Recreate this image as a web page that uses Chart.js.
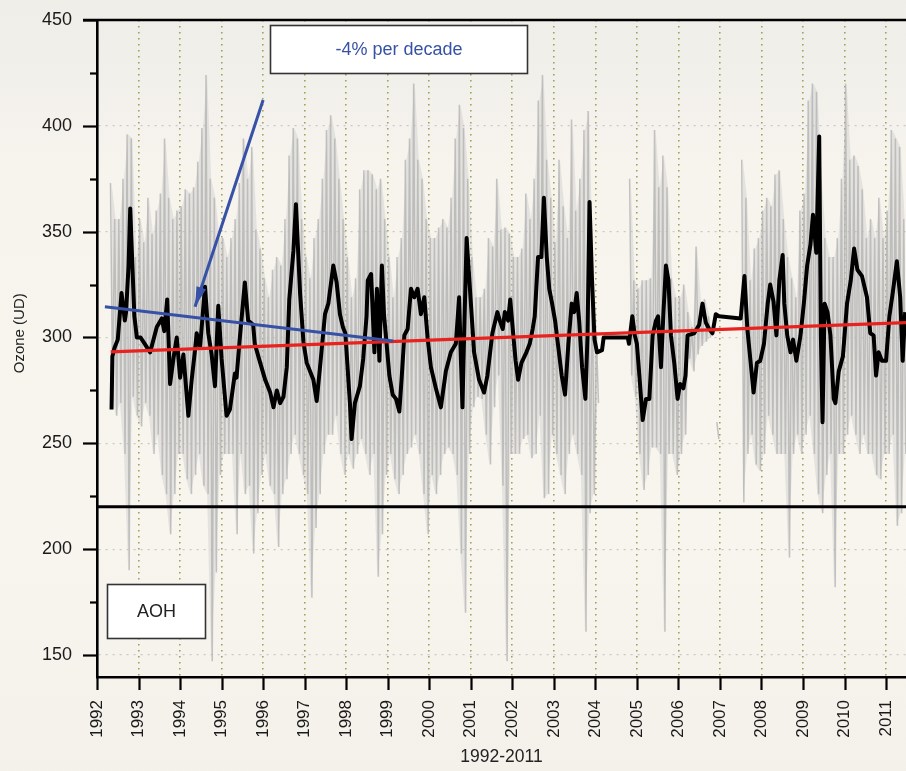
<!DOCTYPE html>
<html><head><meta charset="utf-8">
<script src="https://cdn.jsdelivr.net/npm/chart.js@4/dist/chart.umd.min.js"></script>
<style>
html,body{margin:0;padding:0;}
body{width:906px;height:771px;overflow:hidden;background:linear-gradient(180deg,#efeee9 0%,#f1efea 8%,#f7f4ee 22%,#f8f5ef 70%,#f4f1eb 100%);}
#wrap{position:relative;width:906px;height:771px;}
canvas{display:block;}
</style></head><body><div id="wrap"><canvas id="c" width="906" height="771"></canvas></div>
<script>
// ---------------- DATA ----------------
// Smoothed (black) series: decimal year / ozone value (DU)
const blackYears = [1992.35,1992.37,1992.42,1992.5,1992.59,1992.67,1992.7,1992.76,1992.8,1992.85,1992.9,1992.96,
1993.05,1993.15,1993.28,1993.44,1993.56,1993.62,1993.69,1993.76,1993.84,1993.92,
1994.0,1994.08,1994.2,1994.28,1994.36,1994.4,1994.48,1994.6,1994.68,1994.76,1994.84,1994.92,
1995.0,1995.12,1995.2,1995.32,1995.36,1995.44,1995.56,1995.64,1995.76,1995.8,1995.9,
1996.05,1996.17,1996.25,1996.33,1996.41,1996.49,1996.57,1996.63,1996.73,1996.79,1996.89,1996.97,
1997.05,1997.21,1997.29,1997.37,1997.49,1997.57,1997.69,1997.77,1997.85,1997.92,1997.98,
1998.09,1998.13,1998.21,1998.33,1998.41,1998.49,1998.52,1998.6,1998.68,1998.74,1998.8,1998.86,1998.91,1998.96,
1999.04,1999.12,1999.2,1999.28,1999.34,1999.4,1999.48,1999.56,1999.64,1999.72,1999.8,1999.88,1999.96,
2000.04,2000.16,2000.28,2000.4,2000.52,2000.64,2000.72,2000.76,2000.8,2000.84,2000.9,2000.98,
2001.08,2001.2,2001.32,2001.4,2001.52,2001.64,2001.7,2001.77,2001.82,2001.9,2001.95,
2002.02,2002.08,2002.14,2002.22,2002.34,2002.42,2002.49,2002.54,2002.62,2002.7,2002.76,2002.83,2002.89,2002.95,
2003.03,2003.11,2003.19,2003.27,2003.35,2003.43,2003.49,2003.55,2003.61,2003.68,2003.76,2003.81,2003.86,2003.92,2003.98,
2004.04,2004.16,2004.2,2004.78,2004.81,2004.89,2004.95,
2005.0,2005.06,2005.14,2005.22,2005.3,2005.38,2005.46,2005.51,2005.58,2005.64,2005.7,2005.76,2005.82,2005.9,2005.98,
2006.04,2006.12,2006.17,2006.22,2006.38,2006.5,2006.58,2006.66,2006.74,2006.82,2006.9,2006.98,
2007.5,2007.59,2007.66,2007.75,2007.81,2007.89,2007.97,
2008.06,2008.15,2008.21,2008.29,2008.36,2008.43,2008.51,2008.55,2008.62,2008.7,2008.76,2008.84,2008.94,
2009.02,2009.1,2009.18,2009.24,2009.32,2009.39,2009.43,2009.47,2009.52,2009.59,2009.66,2009.74,2009.78,2009.86,2009.96,
2010.06,2010.15,2010.23,2010.31,2010.42,2010.54,2010.62,2010.7,2010.76,2010.82,2010.9,
2011.0,2011.08,2011.16,2011.26,2011.34,2011.4,2011.46];
const blackValues = [266,291,295,299,321,308,312,334,361,335,310,300,
300,297,293,305,309,303,318,278,290,300,
281,292,263,280,294,302,295,324,302,292,277,315,
290,263,266,283,281,300,326,308,306,297,290,
280,274,267,275,269,272,286,318,341,363,321,298,
288,280,270,286,311,316,334,326,311,305,302,
269,252,269,277,290,310,327,330,293,323,289,334,311,300,
282,273,271,265,282,301,304,323,319,323,311,319,300,
286,276,267,284,293,297,319,291,267,301,347,323,
293,280,274,282,302,312,308,304,312,308,318,
302,289,280,288,293,297,304,310,338,338,366,338,323,317,
308,295,282,273,297,316,312,321,308,286,271,300,364,327,299,
293,294,300,300,297,310,301,
297,282,261,271,271,301,308,310,286,312,334,327,301,288,271,
278,276,282,301,302,306,316,307,304,302,311,310,
309,329,304,286,274,288,289,
297,316,325,317,301,327,339,316,301,293,299,289,301,
316,334,344,358,340,395,301,260,316,312,301,271,269,284,291,
316,327,342,332,329,319,302,301,282,293,289,
289,310,321,336,319,289,312];

// Daily (grey) series summarised per 0.1-year bin: highest and lowest daily value
const grayFirstBin = 1992.3;
const grayBinWidth = 0.1;
const grayHigh = [373,356,356,375,396,394,338,
356,345,366,349,360,368,394,366,356,360,
362,370,368,371,383,399,424,375,366,347,
347,338,347,356,373,394,375,390,351,342,
328,319,332,338,334,356,386,399,394,356,
338,328,347,356,375,398,405,394,375,356,
338,319,328,370,379,379,377,370,375,356,
338,319,338,347,384,394,420,384,375,356,
347,347,352,356,352,366,394,410,399,375,
338,319,319,323,347,343,375,351,352,349,
338,338,342,368,356,375,412,424,384,366,
345,384,362,347,403,360,375,398,407,328,
300,null,null,null,null,null,null,null,375,327,
323,327,327,328,398,371,386,371,328,319,
319,325,312,305,343,315,318,310,null,260,
null,null,null,null,null,384,366,327,342,347,
360,366,362,377,379,356,338,328,319,360,
368,412,420,416,375,347,338,338,347,375,
420,384,386,381,370,347,356,347,366,347,
360,398,394,390,356];
const grayLow = [275,263,269,245,190,272,263,
258,269,263,245,254,235,226,207,226,245,
245,233,226,235,245,230,226,147,189,235,
245,245,245,207,245,226,230,198,217,235,
245,230,226,201,226,233,245,254,245,235,
226,177,210,226,245,254,254,263,245,235,
245,238,245,252,245,235,245,187,207,235,
245,233,226,235,245,248,254,245,226,207,
235,226,235,245,248,245,235,198,170,245,
267,272,271,254,240,267,282,230,147,245,
245,245,252,254,243,245,263,224,226,254,
245,235,226,245,254,245,235,161,217,226,
269,null,null,null,null,null,null,null,282,272,
245,228,235,248,248,245,161,245,245,235,
245,254,290,284,292,296,298,300,null,252,
null,null,null,null,null,222,245,254,240,237,
245,263,254,245,245,245,196,245,254,245,
254,263,245,226,217,235,245,182,245,245,
254,263,254,245,254,245,245,235,233,245,
245,254,211,217,245];

// Trend lines and arrow (end points, decimal year / DU)
const redTrendYears = [1992.33, 2011.48];
const redTrendValues = [293.2, 307.0];
const blueTrendYears = [1992.19, 1999.13];
const blueTrendValues = [314.5, 298.3];
const arrowYears = [1996.0, 1994.36];
const arrowValues = [412.2, 314.5];
const separatorYears = [1992, 2011.48];
const separatorValues = [220, 220];

// Text labels
const trendLabel = '-4% per decade';
const stationLabel = 'AOH';
const yAxisTitle = 'Ozone (UD)';
const xAxisTitle = '1992-2011';

// ---------------- BUILD ----------------
const pts = (xs, ys) => xs.map((x, i) => ({x, y: ys[i]}));
const grayPoints = [], grayTop = [], grayBottom = [];
grayHigh.forEach((h, i) => {
  const s = grayFirstBin + i * grayBinWidth;
  grayPoints.push({x: s + grayBinWidth * 0.25, y: h});
  grayPoints.push({x: s + grayBinWidth * 0.75, y: grayLow[i]});
  grayTop.push({x: s + grayBinWidth * 0.5, y: h});
  grayBottom.push({x: s + grayBinWidth * 0.5, y: grayLow[i]});
});

const FONT = "'Liberation Sans', Arial, Helvetica, sans-serif";
const BLUE = '#3651a6';

const decor = {
  id: 'decor',
  afterDraw(chart) {
    const {ctx, chartArea: ca, scales: {x, y}} = chart;
    ctx.save();
    ctx.strokeStyle = '#000';
    ctx.lineWidth = 2.2;
    y.ticks.forEach(t => {
      const py = Math.round(y.getPixelForValue(t.value)) + 0.5;
      const len = t.value % 50 === 0 ? 14 : 7;
      ctx.beginPath(); ctx.moveTo(ca.left - len, py); ctx.lineTo(ca.left, py); ctx.stroke();
    });
    x.ticks.forEach(t => {
      const px = Math.round(x.getPixelForValue(t.value)) + 0.5;
      ctx.beginPath(); ctx.moveTo(px, ca.bottom); ctx.lineTo(px, ca.bottom + 13); ctx.stroke();
    });
    ctx.lineWidth = 2.6;
    ctx.beginPath(); ctx.moveTo(ca.left - 14, ca.top); ctx.lineTo(ca.right, ca.top); ctx.stroke();

    // arrow head
    const ax0 = x.getPixelForValue(arrowYears[0]), ay0 = y.getPixelForValue(arrowValues[0]);
    const ax1 = x.getPixelForValue(arrowYears[1]), ay1 = y.getPixelForValue(arrowValues[1]);
    const d = Math.hypot(ax1 - ax0, ay1 - ay0);
    const ux = (ax1 - ax0) / d, uy = (ay1 - ay0) / d;
    const bx = ax1 - ux * 20, by = ay1 - uy * 20;
    ctx.fillStyle = BLUE;
    ctx.beginPath();
    ctx.moveTo(ax1, ay1);
    ctx.lineTo(bx - uy * 5, by + ux * 5);
    ctx.lineTo(bx + uy * 5, by - ux * 5);
    ctx.closePath(); ctx.fill();

    // text boxes
    const box = (x0, x1, y0, y1, text, color) => {
      const px0 = Math.round(x.getPixelForValue(x0)) + 0.5, px1 = Math.round(x.getPixelForValue(x1)) + 0.5;
      const py0 = Math.round(y.getPixelForValue(y0)) + 0.5, py1 = Math.round(y.getPixelForValue(y1)) + 0.5;
      ctx.fillStyle = '#ffffff';
      ctx.fillRect(px0, py0, px1 - px0, py1 - py0);
      ctx.strokeStyle = '#333333'; ctx.lineWidth = 1.6;
      ctx.strokeRect(px0, py0, px1 - px0, py1 - py0);
      ctx.fillStyle = color;
      ctx.font = '18px ' + FONT;
      ctx.textAlign = 'center'; ctx.textBaseline = 'middle';
      ctx.fillText(text, (px0 + px1) / 2, (py0 + py1) / 2 + 1);
    };
    box(1996.17, 2002.35, 447.6, 425.0, trendLabel, BLUE);
    box(1992.24, 1994.6, 183.5, 158.0, stationLabel, '#222222');

    // y axis title (placed like the original, slightly above the axis middle)
    ctx.save();
    ctx.translate(20, y.getPixelForValue(302));
    ctx.rotate(-Math.PI / 2);
    ctx.fillStyle = '#222222';
    ctx.font = '15px ' + FONT;
    ctx.textAlign = 'center'; ctx.textBaseline = 'middle';
    ctx.fillText(yAxisTitle, 0, 0);
    ctx.restore();
    ctx.restore();
  }
};

new Chart(document.getElementById('c'), {
  type: 'line',
  data: {
    datasets: [
      {label: 'arrow', data: pts(arrowYears, arrowValues), borderColor: BLUE, borderWidth: 3, order: 1},
      {label: 'blue trend', data: pts(blueTrendYears, blueTrendValues), borderColor: BLUE, borderWidth: 3, order: 2},
      {label: 'red trend', data: pts(redTrendYears, redTrendValues), borderColor: '#e8231f', borderWidth: 3.2, order: 3},
      {label: 'separator', data: pts(separatorYears, separatorValues), borderColor: '#000', borderWidth: 3, order: 4},
      {label: 'smoothed', data: pts(blackYears, blackValues), borderColor: '#000', borderWidth: 4, borderJoinStyle: 'round', order: 5},
      {label: 'daily', data: grayPoints, borderColor: 'rgba(180,180,180,0.8)', borderWidth: 1.5, spanGaps: false, order: 6},
      {label: 'daily range top', data: grayTop, borderWidth: 0, borderColor: 'rgba(0,0,0,0)', spanGaps: false,
        fill: '+1', backgroundColor: 'rgba(190,190,190,0.33)', order: 7},
      {label: 'daily range bottom', data: grayBottom, borderWidth: 0, borderColor: 'rgba(0,0,0,0)', spanGaps: false, fill: false, order: 8}
    ]
  },
  options: {
    responsive: false,
    devicePixelRatio: 1,
    animation: false,
    elements: {point: {radius: 0, hoverRadius: 0}, line: {tension: 0}},
    layout: {padding: {top: 20, right: 0, left: 0, bottom: 0}},
    plugins: {legend: {display: false}, tooltip: {enabled: false}, filler: {propagate: false}},
    events: [],
    scales: {
      x: {
        type: 'linear', min: 1992, max: 2011.48,
        afterFit(s) { s.height = 94; s.paddingLeft = 0; s.paddingRight = 0; },
        ticks: {stepSize: 1, includeBounds: false, autoSkip: false, maxRotation: 90, minRotation: 90,
          padding: 23, color: '#1a1a1a', font: {family: FONT, size: 17}, callback: v => String(v)},
        grid: {drawTicks: false, lineWidth: 1.6,
          color: c => (c.tick && c.tick.value === 1992) ? 'rgba(0,0,0,0)' : '#a0a058'},
        border: {display: true, color: '#000', width: 2.6, dash: [1.6, 4.4]},
        title: {display: true, text: xAxisTitle, color: '#222', font: {family: FONT, size: 17.5}, padding: {top: 0, bottom: 3}}
      },
      y: {
        type: 'linear', min: 139.6, max: 450,
        afterFit(s) { s.width = 97; s.paddingTop = 0; s.paddingBottom = 0; },
        ticks: {stepSize: 25, includeBounds: false, autoSkip: false, padding: 25, color: '#1a1a1a',
          font: {family: FONT, size: 18}, callback: v => (v % 50 === 0 ? String(v) : '')},
        grid: {drawTicks: false, lineWidth: 1.2,
          color: c => (c.tick && c.tick.value % 50 === 0 && c.tick.value !== 450) ? '#c9c9c4' : 'rgba(0,0,0,0)'},
        border: {display: true, color: '#000', width: 2.6, dash: [2, 5]},
        title: {display: false}
      }
    }
  },
  plugins: [decor]
});
</script></body></html>
